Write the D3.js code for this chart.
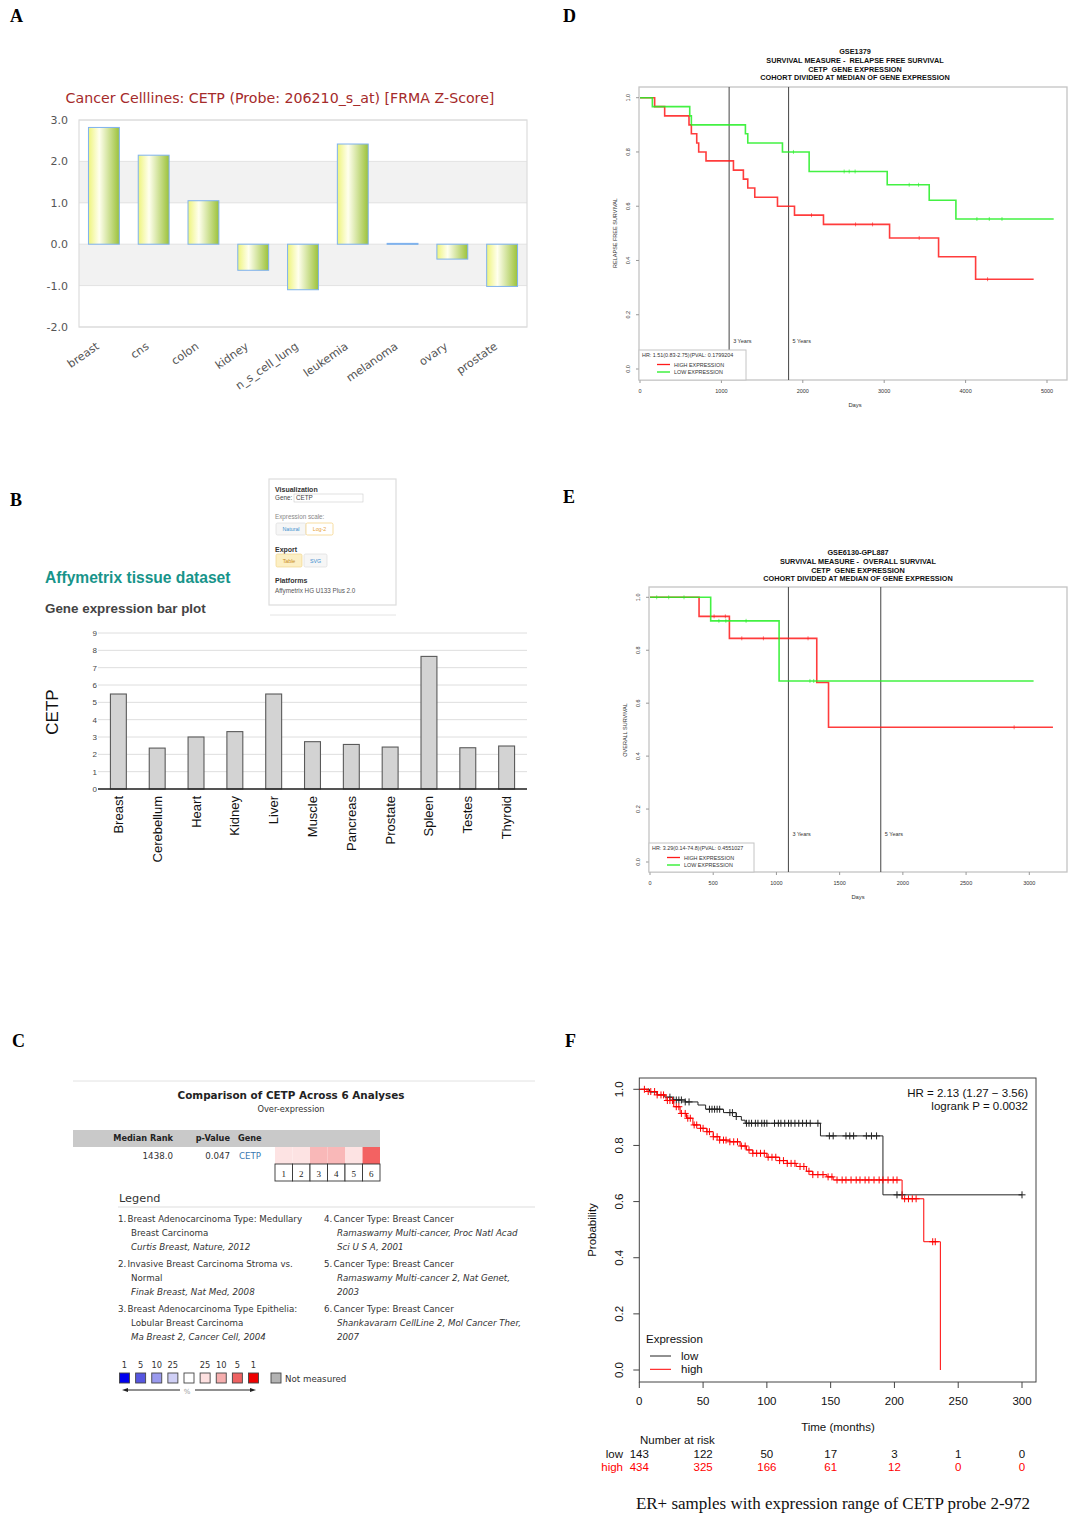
<!DOCTYPE html>
<html>
<head>
<meta charset="utf-8">
<script src="https://cdn.jsdelivr.net/npm/d3@7"></script>
<style>
body { margin: 0; background: #fff; }
svg { display: block; }
</style>
</head>
<body>
<svg id="fig" width="1068" height="1521"></svg>
<script>
// ---------- DATA ----------
// A: cancer cell lines (fRMA z-score)
const cellLines = ['breast', 'cns', 'colon', 'kidney', 'n_s_cell_lung', 'leukemia', 'melanoma', 'ovary', 'prostate'];
const cellZ = [2.82, 2.15, 1.05, -0.63, -1.1, 2.42, 0.02, -0.36, -1.02];
const zTicks = [-2, -1, 0, 1, 2, 3];
const zBands = [[1, 2], [-1, 0]];

// B: Affymetrix tissue dataset
const tissues = ['Breast', 'Cerebellum', 'Heart', 'Kidney', 'Liver', 'Muscle', 'Pancreas', 'Prostate', 'Spleen', 'Testes', 'Thyroid'];
const tissueExpr = [5.48, 2.36, 3.0, 3.31, 5.48, 2.73, 2.57, 2.42, 7.65, 2.38, 2.48];
const exprTicks = [0, 1, 2, 3, 4, 5, 6, 7, 8, 9];

// C: Oncomine comparison
const analysisNums = ['1', '2', '3', '4', '5', '6'];
const analysisColors = ['#fde3e3', '#fde3e3', '#f9b8b8', '#f9b8b8', '#fde3e3', '#f36262'];
const legendItems = [
  { n: '1.', lines: ['Breast Adenocarcinoma Type: Medullary', 'Breast Carcinoma'], cite: ['Curtis Breast, Nature, 2012'] },
  { n: '2.', lines: ['Invasive Breast Carcinoma Stroma vs.', 'Normal'], cite: ['Finak Breast, Nat Med, 2008'] },
  { n: '3.', lines: ['Breast Adenocarcinoma Type Epithelia:', 'Lobular Breast Carcinoma'], cite: ['Ma Breast 2, Cancer Cell, 2004'] },
  { n: '4.', lines: ['Cancer Type: Breast Cancer'], cite: ['Ramaswamy Multi-cancer, Proc Natl Acad', 'Sci U S A, 2001'] },
  { n: '5.', lines: ['Cancer Type: Breast Cancer'], cite: ['Ramaswamy Multi-cancer 2, Nat Genet,', '2003'] },
  { n: '6.', lines: ['Cancer Type: Breast Cancer'], cite: ['Shankavaram CellLine 2, Mol Cancer Ther,', '2007'] }
];
const pctLabels = ['1', '5', '10', '25', '', '25', '10', '5', '1'];
const pctColors = ['#0000ee', '#5656e0', '#9a9aee', '#d0d0f6', '#ffffff', '#fde0e0', '#f6aeae', '#ee6262', '#ee0000'];

// D: GSE1379 relapse free survival
const dTitle = ['GSE1379', 'SURVIVAL MEASURE -  RELAPSE FREE SURVIVAL', 'CETP  GENE EXPRESSION', 'COHORT DIVIDED AT MEDIAN OF GENE EXPRESSION'];
const dHighDays = [0, 180, 303, 602, 631, 697, 721, 811, 1148, 1270, 1324, 1410, 1689, 1898, 2254, 3066, 3668, 4123, 4836];
const dHighSurv = [1, 0.967, 0.933, 0.9, 0.867, 0.833, 0.8, 0.767, 0.733, 0.7, 0.667, 0.633, 0.6, 0.567, 0.533, 0.483, 0.414, 0.331, 0.331];
const dLowDays = [0, 152, 611, 631, 1295, 1324, 1750, 2078, 3037, 3553, 3881, 5082];
const dLowSurv = [1, 0.967, 0.933, 0.9, 0.867, 0.833, 0.8, 0.728, 0.679, 0.622, 0.553, 0.553];
const dHighCens = [2107, 2648, 2857, 3430, 4270];
const dLowCens = [1885, 2508, 2570, 2643, 3307, 3422, 4139, 4291, 4447];
const dHR = 'HR: 1.51(0.83-2.75)(PVAL: 0.1799204';
const dDayTicks = [0, 1000, 2000, 3000, 4000, 5000];

// E: GSE6130-GPL887 overall survival
const eTitle = ['GSE6130-GPL887', 'SURVIVAL MEASURE -  OVERALL SURVIVAL', 'CETP  GENE EXPRESSION', 'COHORT DIVIDED AT MEDIAN OF GENE EXPRESSION'];
const eHighDays = [0, 388, 628, 1319, 1412, 3187];
const eHighSurv = [1, 0.928, 0.845, 0.678, 0.509, 0.509];
const eLowDays = [0, 480, 1021, 3034];
const eLowSurv = [1, 0.911, 0.684, 0.684];
const eHighCens = [507, 596, 726, 897, 1250, 2880];
const eLowCens = [53, 148, 269, 545, 600, 760, 1265, 1295];
const eHR = 'HR: 3.29(0.14-74.8)(PVAL: 0.4551027';
const eDayTicks = [0, 500, 1000, 1500, 2000, 2500, 3000];

const survTicks = [0, 0.2, 0.4, 0.6, 0.8, 1.0];
const yearMarks = [{ d: 1095, label: '3 Years' }, { d: 1825, label: '5 Years' }];

// F: KM plotter, ER+ samples
const fLowMonths = [0, 8, 14, 20, 26, 36, 46, 52, 66, 76, 80, 83, 142, 191, 300];
const fLowSurv = [1, 0.99, 0.98, 0.972, 0.962, 0.955, 0.944, 0.929, 0.917, 0.903, 0.89, 0.879, 0.834, 0.624, 0.624];
const fHighMonths = [0, 6, 14, 21, 27, 32, 37, 42, 48, 53, 58, 63, 71, 79, 84, 89, 100, 110, 116, 123, 131, 136, 147, 152, 206, 223, 236];
const fHighSurv = [1, 0.992, 0.98, 0.96, 0.938, 0.914, 0.897, 0.873, 0.861, 0.849, 0.831, 0.819, 0.813, 0.798, 0.784, 0.772, 0.758, 0.746, 0.736, 0.725, 0.708, 0.696, 0.688, 0.677, 0.61, 0.457, 0];
const fLowCens = [24, 27, 29, 31, 33, 36, 39, 55, 57, 59, 61, 63, 71, 73, 76, 84, 86, 88, 91, 93, 96, 98, 100, 106, 109, 111, 114, 117, 119, 122, 125, 128, 131, 134, 140, 149, 152, 162, 165, 168, 178, 182, 186, 202, 206, 300];
const fHighCens = [4, 7, 9, 12, 14, 17, 19, 22, 24, 26, 29, 31, 33, 36, 38, 40, 43, 45, 48, 50, 53, 55, 58, 61, 63, 66, 68, 71, 74, 77, 80, 83, 86, 89, 92, 95, 98, 101, 104, 107, 110, 113, 116, 119, 122, 126, 129, 133, 136, 140, 144, 148, 151, 155, 159, 162, 166, 170, 173, 177, 180, 184, 188, 191, 195, 199, 202, 208, 211, 214, 217, 230, 232];
const monthTicks = [0, 50, 100, 150, 200, 250, 300];
const riskLow = [143, 122, 50, 17, 3, 1, 0];
const riskHigh = [434, 325, 166, 61, 12, 0, 0];

// ---------- DRAWING ----------
const svg = d3.select('#fig');
const SANS = "'Liberation Sans', Arial, sans-serif";
const DEJA = "'DejaVu Sans', Verdana, sans-serif";

function survAt(T, S, t) {
	let s = S[0];
	for (let i = 0; i < T.length; i++) if (T[i] <= t) s = S[i];
	return s;
}

// panel letters
[['A', 10, 22], ['D', 563, 22], ['B', 10, 506], ['E', 563, 503], ['C', 12, 1047], ['F', 565, 1047]].forEach(p => {
	svg.append('text').attr('x', p[1]).attr('y', p[2])
		.attr('font-family', "'Liberation Serif', 'Times New Roman', serif")
		.attr('font-weight', 'bold').attr('font-size', 18).text(p[0]);
});

// ===== A =====
(function () {
	const g = svg.append('g').attr('font-family', DEJA);
	const x = d3.scaleBand().domain(cellLines).range([79, 527]).paddingInner(0.38).paddingOuter(0.19);
	const y = d3.scaleLinear().domain([-2, 3]).range([327, 120]);

	const grad = svg.append('defs').append('linearGradient').attr('id', 'barGrad')
		.attr('x1', '0%').attr('x2', '100%').attr('y1', '0%').attr('y2', '0%');
	grad.append('stop').attr('offset', '0%').attr('stop-color', '#eef47c');
	grad.append('stop').attr('offset', '35%').attr('stop-color', '#ffffee');
	grad.append('stop').attr('offset', '100%').attr('stop-color', '#9cc23a');

	g.append('text').attr('x', 280).attr('y', 103).attr('text-anchor', 'middle')
		.attr('font-size', 14.2).attr('fill', '#a52a2a')
		.text('Cancer Celllines: CETP (Probe: 206210_s_at) [FRMA Z-Score]');

	g.selectAll('rect.band').data(zBands).join('rect')
		.attr('x', 79).attr('width', 448)
		.attr('y', d => y(d[1])).attr('height', d => y(d[0]) - y(d[1]))
		.attr('fill', '#f2f2f2');
	g.selectAll('line.grid').data(zTicks).join('line')
		.attr('x1', 79).attr('x2', 527).attr('y1', d => y(d)).attr('y2', d => y(d))
		.attr('stroke', '#e2e2e2');
	g.append('rect').attr('x', 79).attr('y', y(3)).attr('width', 448).attr('height', y(-2) - y(3))
		.attr('fill', 'none').attr('stroke', '#dcdcdc').attr('stroke-width', 1.2);
	g.selectAll('text.yt').data(zTicks).join('text')
		.attr('x', 68).attr('y', d => y(d) + 4).attr('text-anchor', 'end')
		.attr('font-size', 11).attr('fill', '#555').text(d => d.toFixed(1));

	g.selectAll('rect.bar').data(cellLines).join('rect')
		.attr('x', d => x(d)).attr('width', x.bandwidth())
		.attr('y', (d, i) => y(Math.max(0, cellZ[i])))
		.attr('height', (d, i) => Math.max(1, Math.abs(y(cellZ[i]) - y(0))))
		.attr('fill', 'url(#barGrad)').attr('stroke', '#7fb2ee').attr('stroke-width', 1);

	g.selectAll('text.xl').data(cellLines).join('text')
		.attr('transform', d => 'translate(' + (x(d) + x.bandwidth() / 2 - 4) + ',348) rotate(-35)')
		.attr('text-anchor', 'end').attr('font-size', 11.2).attr('fill', '#555').text(d => d);
})();

// ===== B =====
(function () {
	const g = svg.append('g').attr('font-family', SANS);
	g.append('text').attr('x', 45).attr('y', 583).attr('font-size', 15.6).attr('font-weight', 'bold')
		.attr('fill', '#17948a').text('Affymetrix tissue dataset');
	g.append('text').attr('x', 45).attr('y', 613).attr('font-size', 13.4).attr('font-weight', 'bold')
		.attr('fill', '#444').text('Gene expression bar plot');

	// options box
	const o = g.append('g').attr('font-size', 6.3);
	o.append('rect').attr('x', 269).attr('y', 479).attr('width', 127).attr('height', 126)
		.attr('fill', '#fff').attr('stroke', '#ddd').attr('stroke-width', 1.2);
	o.append('line').attr('x1', 270).attr('x2', 396).attr('y1', 615).attr('y2', 615).attr('stroke', '#e4e4e4');
	o.append('text').attr('x', 275).attr('y', 492).attr('font-weight', 'bold').attr('font-size', 7).attr('fill', '#333').text('Visualization');
	o.append('text').attr('x', 275).attr('y', 500).attr('fill', '#444').text('Gene:');
	o.append('rect').attr('x', 294).attr('y', 494).attr('width', 69).attr('height', 8).attr('fill', '#fff').attr('stroke', '#ccc').attr('stroke-width', 0.6);
	o.append('text').attr('x', 296).attr('y', 500).attr('fill', '#444').text('CETP');
	o.append('text').attr('x', 275).attr('y', 519).attr('fill', '#888').text('Expression scale:');
	o.append('rect').attr('x', 276).attr('y', 523).attr('width', 30).attr('height', 12).attr('rx', 1.5).attr('fill', '#f6f6f6').attr('stroke', '#ddd').attr('stroke-width', 0.7);
	o.append('text').attr('x', 291).attr('y', 531).attr('text-anchor', 'middle').attr('font-size', 5.3).attr('fill', '#3a8fd0').text('Natural');
	o.append('rect').attr('x', 306).attr('y', 523).attr('width', 27).attr('height', 12).attr('rx', 1.5).attr('fill', '#fff').attr('stroke', '#f3cf7a').attr('stroke-width', 0.7);
	o.append('text').attr('x', 319.5).attr('y', 531).attr('text-anchor', 'middle').attr('font-size', 5.3).attr('fill', '#e8a33a').text('Log-2');
	o.append('text').attr('x', 275).attr('y', 552).attr('font-weight', 'bold').attr('font-size', 7).attr('fill', '#333').text('Export');
	o.append('rect').attr('x', 276).attr('y', 554).attr('width', 26).attr('height', 13).attr('rx', 1.5).attr('fill', '#fcefc4').attr('stroke', '#f0d58c').attr('stroke-width', 0.7);
	o.append('text').attr('x', 289).attr('y', 563).attr('text-anchor', 'middle').attr('font-size', 5.3).attr('fill', '#c88a1d').text('Table');
	o.append('rect').attr('x', 304).attr('y', 554).attr('width', 23).attr('height', 13).attr('rx', 1.5).attr('fill', '#f6f6f6').attr('stroke', '#ddd').attr('stroke-width', 0.7);
	o.append('text').attr('x', 315.5).attr('y', 563).attr('text-anchor', 'middle').attr('font-size', 5.3).attr('fill', '#3a8fd0').text('SVG');
	o.append('text').attr('x', 275).attr('y', 583).attr('font-weight', 'bold').attr('font-size', 7).attr('fill', '#333').text('Platforms');
	o.append('text').attr('x', 275).attr('y', 593).attr('fill', '#555').text('Affymetrix HG U133 Plus 2.0');

	const x = d3.scaleBand().domain(tissues).range([98, 527]).paddingInner(0.59).paddingOuter(0.32);
	const y = d3.scaleLinear().domain([0, 9]).range([789, 633]);
	g.selectAll('line.grid').data(exprTicks).join('line')
		.attr('x1', 98).attr('x2', 527).attr('y1', d => y(d)).attr('y2', d => y(d))
		.attr('stroke', '#dedede');
	g.selectAll('text.yt').data(exprTicks).join('text')
		.attr('x', 97).attr('y', d => y(d) + 3).attr('text-anchor', 'end')
		.attr('font-size', 8).attr('fill', '#444').text(d => d);
	g.selectAll('rect.bar').data(tissues).join('rect')
		.attr('x', d => x(d)).attr('width', x.bandwidth())
		.attr('y', (d, i) => y(tissueExpr[i])).attr('height', (d, i) => y(0) - y(tissueExpr[i]))
		.attr('fill', '#d3d3d3').attr('stroke', '#5a5a5a').attr('stroke-width', 1.1);
	g.append('line').attr('x1', 98).attr('x2', 527).attr('y1', y(0)).attr('y2', y(0))
		.attr('stroke', '#222').attr('stroke-width', 1.6);
	g.selectAll('text.xl').data(tissues).join('text')
		.attr('transform', d => 'translate(' + (x(d) + x.bandwidth() / 2 + 4.5) + ',796) rotate(-90)')
		.attr('text-anchor', 'end').attr('font-size', 13).attr('fill', '#111').text(d => d);
	g.append('text').attr('transform', 'translate(58,712) rotate(-90)').attr('text-anchor', 'middle')
		.attr('font-size', 17).attr('fill', '#111').text('CETP');
})();

// ===== C =====
(function () {
	const g = svg.append('g').attr('font-family', DEJA).attr('fill', '#222');
	g.append('line').attr('x1', 73).attr('x2', 535).attr('y1', 1081).attr('y2', 1081).attr('stroke', '#e2e2e2');
	g.append('text').attr('x', 291).attr('y', 1099).attr('text-anchor', 'middle').attr('font-size', 10.4)
		.attr('font-weight', 'bold').text('Comparison of CETP Across 6 Analyses');
	g.append('text').attr('x', 291).attr('y', 1112).attr('text-anchor', 'middle').attr('font-size', 8.3)
		.attr('fill', '#333').text('Over-expression');
	g.append('rect').attr('x', 73).attr('y', 1130).attr('width', 307).attr('height', 17).attr('fill', '#c9c9c9');
	g.append('text').attr('x', 173).attr('y', 1141).attr('text-anchor', 'end').attr('font-size', 8.2).attr('font-weight', 'bold').text('Median Rank');
	g.append('text').attr('x', 230).attr('y', 1141).attr('text-anchor', 'end').attr('font-size', 8.2).attr('font-weight', 'bold').text('p-Value');
	g.append('text').attr('x', 238).attr('y', 1141).attr('font-size', 8.2).attr('font-weight', 'bold').text('Gene');
	g.append('text').attr('x', 173).attr('y', 1159).attr('text-anchor', 'end').attr('font-size', 8.7).attr('fill', '#333').text('1438.0');
	g.append('text').attr('x', 230).attr('y', 1159).attr('text-anchor', 'end').attr('font-size', 8.7).attr('fill', '#333').text('0.047');
	g.append('text').attr('x', 239).attr('y', 1159).attr('font-size', 8.7).attr('fill', '#3a78b0').text('CETP');

	const xc = d3.scaleBand().domain(analysisNums).range([275, 380]);
	g.selectAll('rect.cell').data(analysisNums).join('rect')
		.attr('x', d => xc(d)).attr('y', 1147).attr('width', xc.bandwidth()).attr('height', 17)
		.attr('fill', (d, i) => analysisColors[i]);
	g.selectAll('rect.num').data(analysisNums).join('rect')
		.attr('x', d => xc(d)).attr('y', 1164).attr('width', xc.bandwidth()).attr('height', 17)
		.attr('fill', '#fff').attr('stroke', '#333').attr('stroke-width', 0.9);
	g.selectAll('text.num').data(analysisNums).join('text')
		.attr('x', d => xc(d) + xc.bandwidth() / 2).attr('y', 1177).attr('text-anchor', 'middle')
		.attr('font-size', 9).attr('font-family', "'Liberation Serif', serif").text(d => d);

	g.append('text').attr('x', 119).attr('y', 1202).attr('font-size', 11.3).attr('fill', '#333').text('Legend');
	g.append('line').attr('x1', 118).attr('x2', 535).attr('y1', 1207).attr('y2', 1207).attr('stroke', '#ddd');
	legendItems.forEach((it, i) => {
		const col = i < 3 ? 0 : 1;
		const row = i % 3;
		const x0 = col === 0 ? 118 : 324;
		const y0 = 1222 + row * 45;
		const lines = it.lines.map(t => ({ t: t, it: false })).concat(it.cite.map(t => ({ t: t, it: true })));
		g.append('text').attr('x', x0).attr('y', y0).attr('font-size', 8.7).attr('fill', '#333').text(it.n);
		lines.forEach((ln, j) => {
			g.append('text').attr('x', x0 + (j === 0 ? 9.5 : 13)).attr('y', y0 + j * 14)
				.attr('font-size', 8.7).attr('fill', '#333')
				.attr('font-style', ln.it ? 'italic' : 'normal').text(ln.t);
		});
	});

	const xs = d3.scalePoint().domain(d3.range(pctColors.length)).range([124.5, 253.5]);
	g.selectAll('text.pct').data(pctLabels).join('text')
		.attr('x', (d, i) => xs(i)).attr('y', 1368).attr('text-anchor', 'middle')
		.attr('font-size', 8.3).attr('fill', '#333').text(d => d);
	g.selectAll('rect.pct').data(pctColors).join('rect')
		.attr('x', (d, i) => xs(i) - 5).attr('y', 1373).attr('width', 10).attr('height', 10)
		.attr('fill', d => d).attr('stroke', '#444').attr('stroke-width', 0.9);
	g.append('rect').attr('x', 271).attr('y', 1373).attr('width', 10).attr('height', 10)
		.attr('fill', '#b3b3b3').attr('stroke', '#444').attr('stroke-width', 0.9);
	g.append('text').attr('x', 285).attr('y', 1382).attr('font-size', 8.7).attr('fill', '#333').text('Not measured');
	g.append('line').attr('x1', 126).attr('x2', 180).attr('y1', 1390).attr('y2', 1390).attr('stroke', '#222');
	g.append('path').attr('d', 'M122,1390 L128,1388 L128,1392 Z').attr('fill', '#222');
	g.append('text').attr('x', 187).attr('y', 1394).attr('text-anchor', 'middle').attr('font-size', 7).attr('fill', '#999').text('%');
	g.append('line').attr('x1', 195).attr('x2', 252).attr('y1', 1390).attr('y2', 1390).attr('stroke', '#222');
	g.append('path').attr('d', 'M256,1390 L250,1388 L250,1392 Z').attr('fill', '#222');
})();

// ===== D / E =====
function drawKM(c) {
	const g = svg.append('g').attr('font-family', SANS).attr('fill', '#333');
	const x = d3.scaleLinear().domain(c.xDom).range(c.xRng);
	const y = d3.scaleLinear().domain([0, 1]).range(c.yRng);
	const [l, t, r, b] = c.box;

	g.selectAll('text.ttl').data(c.titles).join('text')
		.attr('x', c.titleX).attr('y', (d, i) => c.titleY + i * 8.8)
		.attr('text-anchor', 'middle').attr('font-size', 7.3).attr('font-weight', 'bold')
		.attr('fill', '#111').style('white-space', 'pre').text(d => d);

	g.append('rect').attr('x', l).attr('y', t).attr('width', r - l).attr('height', b - t)
		.attr('fill', 'none').attr('stroke', '#c4c4c4').attr('stroke-width', 1.3);

	g.selectAll('line.yt').data(survTicks).join('line')
		.attr('x1', l - 3).attr('x2', l).attr('y1', d => y(d)).attr('y2', d => y(d)).attr('stroke', '#999');
	g.selectAll('text.yt').data(survTicks).join('text')
		.attr('transform', d => 'translate(' + (l - 9) + ',' + y(d) + ') rotate(-90)')
		.attr('text-anchor', 'middle').attr('font-size', 5.5).text(d => d.toFixed(1));
	g.selectAll('line.xt').data(c.xTicks).join('line')
		.attr('x1', d => x(d)).attr('x2', d => x(d)).attr('y1', b).attr('y2', b + 3).attr('stroke', '#999');
	g.selectAll('text.xt').data(c.xTicks).join('text')
		.attr('x', d => x(d)).attr('y', b + 13).attr('text-anchor', 'middle').attr('font-size', 5.5).text(d => d);
	g.append('text').attr('x', c.titleX).attr('y', b + 27).attr('text-anchor', 'middle').attr('font-size', 5.8).text('Days');
	g.append('text').attr('transform', 'translate(' + c.yTitleX + ',' + c.yTitleY + ') rotate(-90)')
		.attr('text-anchor', 'middle').attr('font-size', 5.5).text(c.yTitle);

	g.selectAll('line.yr').data(yearMarks).join('line')
		.attr('x1', d => x(d.d)).attr('x2', d => x(d.d)).attr('y1', t).attr('y2', b)
		.attr('stroke', '#555').attr('stroke-width', 1.1);
	g.selectAll('text.yr').data(yearMarks).join('text')
		.attr('x', d => x(d.d) + 4).attr('y', c.yearLabelY).attr('font-size', 5.5).text(d => d.label);

	const line = d3.line().x(d => x(d[0])).y(d => y(d[1])).curve(d3.curveStepAfter);
	c.series.forEach(s => {
		g.append('path').attr('d', line(d3.zip(s.T, s.S))).attr('fill', 'none')
			.attr('stroke', s.color).attr('stroke-width', 1.6).attr('opacity', 0.85);
		g.selectAll(null).data(s.cens).join('line')
			.attr('x1', d => x(d)).attr('x2', d => x(d))
			.attr('y1', d => y(survAt(s.T, s.S, d)) - 2).attr('y2', d => y(survAt(s.T, s.S, d)) + 2)
			.attr('stroke', s.color).attr('stroke-width', 0.6);
	});

	const lg = c.legend;
	g.append('rect').attr('x', l).attr('y', lg.y).attr('width', lg.w).attr('height', b - lg.y)
		.attr('fill', '#fff').attr('stroke', '#c4c4c4').attr('stroke-width', 1);
	g.append('text').attr('x', l + 3).attr('y', lg.y + 7).attr('font-size', 5.4).text(c.hr);
	c.series.forEach((s, i) => {
		const yy = lg.y + 14.5 + i * 7.5;
		g.append('line').attr('x1', lg.lx).attr('x2', lg.lx + 13).attr('y1', yy).attr('y2', yy)
			.attr('stroke', s.color).attr('stroke-width', 1.3);
		g.append('text').attr('x', lg.lx + 17).attr('y', yy + 2).attr('font-size', 5.4).text(s.name);
	});
}

drawKM({
	titles: dTitle, titleX: 855, titleY: 54,
	box: [639, 87, 1067, 380],
	xDom: [0, 5000], xRng: [640, 1047], yRng: [369, 97.7],
	xTicks: dDayTicks, yTitle: 'RELAPSE FREE SURVIVAL', yTitleX: 617, yTitleY: 233,
	yearLabelY: 343,
	legend: { y: 350, w: 107, lx: 657 },
	hr: dHR,
	series: [
		{ name: 'HIGH EXPRESSION', color: '#ff1a1a', T: dHighDays, S: dHighSurv, cens: dHighCens },
		{ name: 'LOW EXPRESSION', color: '#22ee22', T: dLowDays, S: dLowSurv, cens: dLowCens }
	]
});

drawKM({
	titles: eTitle, titleX: 858, titleY: 555,
	box: [649, 587, 1067, 872],
	xDom: [0, 3000], xRng: [650, 1029.3], yRng: [862, 597.3],
	xTicks: eDayTicks, yTitle: 'OVERALL SURVIVAL', yTitleX: 627, yTitleY: 730,
	yearLabelY: 836,
	legend: { y: 843, w: 105, lx: 667 },
	hr: eHR,
	series: [
		{ name: 'HIGH EXPRESSION', color: '#ff1a1a', T: eHighDays, S: eHighSurv, cens: eHighCens },
		{ name: 'LOW EXPRESSION', color: '#22ee22', T: eLowDays, S: eLowSurv, cens: eLowCens }
	]
});

// ===== F =====
(function () {
	const g = svg.append('g').attr('font-family', SANS).attr('fill', '#111');
	const x = d3.scaleLinear().domain([0, 300]).range([639.3, 1022]);
	const y = d3.scaleLinear().domain([0, 1]).range([1370, 1089.3]);
	const l = 639.3, t = 1078, r = 1036, b = 1382;

	g.append('rect').attr('x', l).attr('y', t).attr('width', r - l).attr('height', b - t)
		.attr('fill', 'none').attr('stroke', '#444').attr('stroke-width', 1);
	g.selectAll('line.yt').data(survTicks).join('line')
		.attr('x1', l - 6).attr('x2', l).attr('y1', d => y(d)).attr('y2', d => y(d)).attr('stroke', '#444');
	g.selectAll('text.yt').data(survTicks).join('text')
		.attr('transform', d => 'translate(' + (l - 16) + ',' + y(d) + ') rotate(-90)')
		.attr('text-anchor', 'middle').attr('font-size', 11.5).text(d => d.toFixed(1));
	g.selectAll('line.xt').data(monthTicks).join('line')
		.attr('x1', d => x(d)).attr('x2', d => x(d)).attr('y1', b).attr('y2', b + 6).attr('stroke', '#444');
	g.selectAll('text.xt').data(monthTicks).join('text')
		.attr('x', d => x(d)).attr('y', 1405).attr('text-anchor', 'middle').attr('font-size', 11.5).text(d => d);
	g.append('text').attr('x', 838).attr('y', 1431).attr('text-anchor', 'middle').attr('font-size', 11.5).text('Time (months)');
	g.append('text').attr('transform', 'translate(596,1230) rotate(-90)').attr('text-anchor', 'middle')
		.attr('font-size', 11.5).text('Probability');

	g.append('text').attr('x', 1028).attr('y', 1097).attr('text-anchor', 'end').attr('font-size', 11.5).text('HR = 2.13 (1.27 \u2212 3.56)');
	g.append('text').attr('x', 1028).attr('y', 1110).attr('text-anchor', 'end').attr('font-size', 11.5).text('logrank P = 0.0032');

	const series = [
		{ name: 'low', color: '#222', T: fLowMonths, S: fLowSurv, cens: fLowCens },
		{ name: 'high', color: '#ff0000', T: fHighMonths, S: fHighSurv, cens: fHighCens }
	];
	const line = d3.line().x(d => x(d[0])).y(d => y(d[1])).curve(d3.curveStepAfter);
	series.forEach(s => {
		g.append('path').attr('d', line(d3.zip(s.T, s.S))).attr('fill', 'none')
			.attr('stroke', s.color).attr('stroke-width', 1);
		g.selectAll(null).data(s.cens).join('path')
			.attr('d', d => {
				const cx = x(d), cy = y(survAt(s.T, s.S, d));
				return 'M' + (cx - 3.5) + ',' + cy + 'H' + (cx + 3.5) + 'M' + cx + ',' + (cy - 3.5) + 'V' + (cy + 3.5);
			})
			.attr('stroke', s.color).attr('stroke-width', 1).attr('fill', 'none');
	});

	g.append('text').attr('x', 646).attr('y', 1343).attr('font-size', 11.5).text('Expression');
	series.forEach((s, i) => {
		const yy = 1356 + i * 13.3;
		g.append('line').attr('x1', 650).attr('x2', 671).attr('y1', yy).attr('y2', yy)
			.attr('stroke', s.color).attr('stroke-width', 1);
		g.append('text').attr('x', 681).attr('y', yy + 4).attr('font-size', 11.5).text(s.name);
	});

	g.append('text').attr('x', 640).attr('y', 1444).attr('font-size', 11.5).text('Number at risk');
	[{ name: 'low', vals: riskLow, color: '#111' }, { name: 'high', vals: riskHigh, color: '#ff0000' }].forEach((row, i) => {
		const yy = 1458 + i * 13.3;
		g.append('text').attr('x', 623).attr('y', yy).attr('text-anchor', 'end').attr('font-size', 11.5)
			.attr('fill', row.color).text(row.name);
		g.selectAll(null).data(monthTicks).join('text')
			.attr('x', d => x(d)).attr('y', yy).attr('text-anchor', 'middle').attr('font-size', 11.5)
			.attr('fill', row.color).text((d, j) => row.vals[j]);
	});

	g.append('text').attr('x', 833).attr('y', 1509).attr('text-anchor', 'middle')
		.attr('font-family', "'Liberation Serif', 'Times New Roman', serif").attr('font-size', 17)
		.text('ER+ samples with expression range of CETP probe 2-972');
})();
</script>
</body>
</html>
